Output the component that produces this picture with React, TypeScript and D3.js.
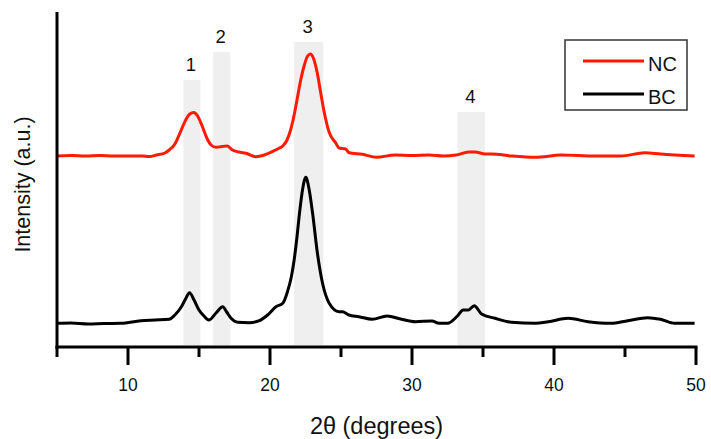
import * as d3 from "d3";

// 2θ positions and intensities (a.u.)
const ncTheta = [5, 6, 7, 8, 9, 10, 11, 11.5, 12, 12.6, 12.9, 13.3, 13.6, 13.9, 14.1, 14.35, 14.63, 14.9, 15.25, 15.55, 15.85, 16.2, 16.6, 17.0, 17.35, 17.8, 18.3, 19.0, 19.6, 20.15, 20.6, 20.9, 21.2, 21.45, 21.7, 21.9, 22.15, 22.4, 22.65, 22.85, 23.05, 23.33, 23.55, 23.8, 24.16, 24.63, 24.86, 25.33, 25.56, 26.5, 27.5, 28.8, 30, 31.2, 32.2, 33.1, 34.0, 34.45, 35.15, 35.6, 37, 38.7, 40.5, 42.9, 44.7, 46.4, 47.5, 49.9];
const ncValues = [191, 191.5, 191, 191.5, 191, 191, 191, 190.5, 192, 194, 197, 203, 212, 222, 228, 233, 234.5, 231, 220, 209, 202, 199.7, 200.5, 201, 197, 195, 193.7, 190.3, 192, 195.3, 198.5, 201, 207, 217, 232, 247, 266, 281, 291, 293, 289, 274, 256, 236, 215, 204, 199, 198, 194.3, 192.7, 189.7, 192, 191.5, 192, 191, 192, 195, 195, 193, 193, 191, 189.7, 192, 191, 191, 194.3, 193, 191];

const bcTheta = [5, 6, 7.2, 8.3, 9.5, 10.9, 11.9, 12.9, 13.3, 13.75, 14.05, 14.33, 14.65, 15.0, 15.35, 15.7, 16.2, 16.67, 16.95, 17.26, 17.72, 18.54, 19.25, 19.83, 20.42, 20.9, 21.23, 21.5, 21.7, 21.9, 22.05, 22.3, 22.52, 22.75, 23.0, 23.34, 23.7, 24.16, 24.86, 25.1, 25.56, 26.26, 27.2, 28.25, 29.2, 30.24, 31.4, 31.9, 32.5, 33.2, 33.6, 33.98, 34.38, 34.9, 35.85, 37.0, 38.7, 39.6, 41.0, 42.4, 44.0, 45.2, 46.6, 47.5, 48.5, 49.9];
const bcValues = [23.7, 24, 23, 23.5, 23.7, 26.3, 27, 27.7, 32, 40, 48, 54.3, 47, 37, 31, 27, 34, 40.3, 35, 28.7, 24.7, 24.3, 26.3, 32, 40.3, 43.7, 55.3, 70, 87, 110, 130.3, 158, 169.7, 158, 133.7, 93.7, 63.7, 44, 35.3, 35.3, 32, 30.3, 27.7, 31, 28, 25.3, 26, 23.7, 23.7, 31, 37, 37, 41.3, 33, 28.7, 24.7, 23.7, 25.3, 28.7, 25.3, 23.7, 26.3, 29.3, 27.7, 23.7, 23.7];

// highlighted reflections: [from, to, top intensity]
const bandNames = ["1", "2", "3", "4"];
const bandFrom = [13.9, 16.0, 21.7, 33.2];
const bandTo = [15.1, 17.2, 23.75, 35.15];
const bandTop = [267, 295, 305, 235];

const majorTicks = [10, 20, 30, 40, 50];
const minorTicks = [5, 15, 25, 35, 45];

const seriesNames = ["NC", "BC"];
const seriesColors = ["#ff1a00", "#000000"];

const W = 711;
const H = 439;
const font = "'Liberation Sans', Arial, sans-serif";

export default function App() {
  const x = d3.scaleLinear().domain([5, 50]).range([57, 696]);
  const y = d3.scaleLinear().domain([0, 335]).range([347, 12]);

  const line = d3
    .line<[number, number]>()
    .x((d) => x(d[0]))
    .y((d) => y(d[1]))
    .curve(d3.curveMonotoneX);

  const nc = ncTheta.map((t, i) => [t, ncValues[i]] as [number, number]);
  const bc = bcTheta.map((t, i) => [t, bcValues[i]] as [number, number]);

  return (
    <svg width={W} height={H} style={{ position: "absolute", left: 0, top: 0, display: "block" }} fontFamily={font}>
      <rect width={W} height={H} fill="#fff" />

      {bandNames.map((name, i) => (
        <g key={name}>
          <rect
            x={x(bandFrom[i])}
            y={y(bandTop[i])}
            width={x(bandTo[i]) - x(bandFrom[i])}
            height={y(0) - y(bandTop[i]) - 2}
            fill="#efefef"
          />
          <text
            x={(x(bandFrom[i]) + x(bandTo[i])) / 2 - 1}
            y={y(bandTop[i]) - 9}
            textAnchor="middle"
            fontSize={18.5}
            fill="#111"
          >
            {name}
          </text>
        </g>
      ))}

      <path d={line(nc) ?? ""} fill="none" stroke={seriesColors[0]} strokeWidth={3} strokeLinejoin="round" />
      <path d={line(bc) ?? ""} fill="none" stroke={seriesColors[1]} strokeWidth={3} strokeLinejoin="round" />

      {/* axes */}
      <line x1={x(5)} x2={x(5)} y1={y(335)} y2={y(0) + 1.5} stroke="#000" strokeWidth={3} />
      <line x1={x(5) - 1.5} x2={x(50) + 1.5} y1={y(0)} y2={y(0)} stroke="#000" strokeWidth={3} />
      {minorTicks.map((t) => (
        <line key={t} x1={x(t)} x2={x(t)} y1={y(0)} y2={y(0) + 10} stroke="#000" strokeWidth={3} />
      ))}
      {majorTicks.map((t) => (
        <g key={t}>
          <line x1={x(t)} x2={x(t)} y1={y(0)} y2={y(0) + 18} stroke="#000" strokeWidth={3} />
          <text x={x(t)} y={391} textAnchor="middle" fontSize={17.5} fill="#111">
            {t}
          </text>
        </g>
      ))}

      <text x={(x(5) + x(50)) / 2} y={434} textAnchor="middle" fontSize={23.5} fill="#111">
        2θ (degrees)
      </text>
      <text
        transform={`translate(30, ${(y(0) + y(335)) / 2 + 5}) rotate(-90)`}
        textAnchor="middle"
        fontSize={21.5}
        fill="#111"
      >
        Intensity (a.u.)
      </text>

      {/* legend */}
      <rect x={565} y={40} width={122} height={70} fill="#fff" stroke="#333" strokeWidth={1.5} />
      {seriesNames.map((name, i) => (
        <g key={name}>
          <line x1={583} x2={644} y1={61 + i * 33} y2={61 + i * 33} stroke={seriesColors[i]} strokeWidth={3} />
          <text x={648} y={70.5 + i * 33} fontSize={20} fill="#111">
            {name}
          </text>
        </g>
      ))}
    </svg>
  );
}
